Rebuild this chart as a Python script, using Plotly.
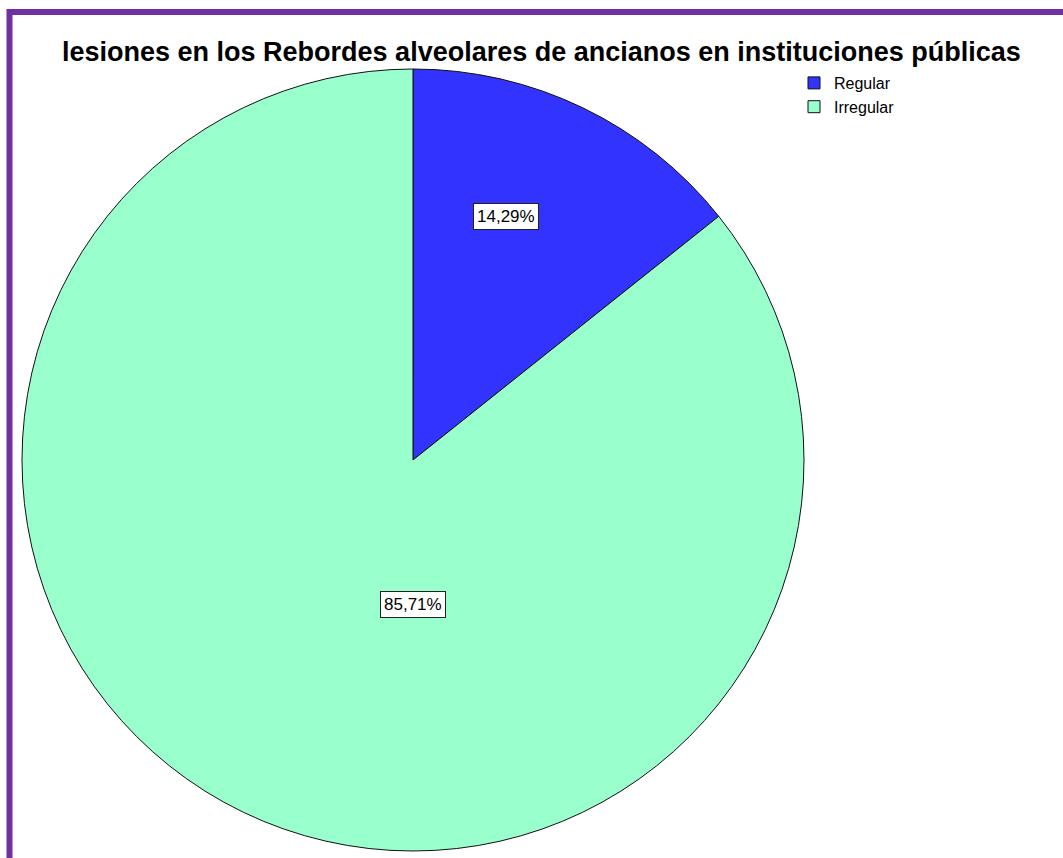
import plotly.graph_objects as go

# ---- data ----
categories = ["Regular", "Irregular"]
percentages = [14.29, 85.71]
slice_colors = ["#3333FF", "#99FFCC"]
title_text = "lesiones en los Rebordes alveolares de ancianos en instituciones públicas"

W, H = 1063, 858
# pie placement (pixels)
cx, cy, r = 413, 460, 391
# label positions as offsets from the centre, in units of radius (layout only)
label_offsets = [(93 / 391, -244 / 391), (0.0, 144 / 391)]

fig = go.Figure()
fig.add_trace(go.Pie(
    labels=categories,
    values=percentages,
    sort=False,
    direction="clockwise",
    rotation=0,
    marker=dict(colors=slice_colors, line=dict(color="#111111", width=1)),
    textinfo="none",
    hoverinfo="label+percent",
    domain=dict(x=[(cx - r) / W, (cx + r) / W], y=[(H - cy - r) / H, (H - cy + r) / H]),
    showlegend=True,
))

annotations = []
for cat, val, (ox, oy) in zip(categories, percentages, label_offsets):
    px_ = cx + ox * r
    py_ = cy + oy * r
    annotations.append(dict(
        x=px_ / W, y=1 - py_ / H, xref="paper", yref="paper",
        text=f"{val:.2f}%".replace(".", ","),
        showarrow=False,
        font=dict(family="Liberation Sans, Arial, sans-serif", size=17, color="#000000"),
        bgcolor="#FFFFFF", bordercolor="#222222", borderwidth=1, borderpad=3,
        xanchor="center", yanchor="middle",
    ))

annotations.append(dict(
    x=541 / W, y=1 - 52 / H, xref="paper", yref="paper",
    text=f"<b>{title_text}</b>", showarrow=False,
    font=dict(family="Liberation Sans, Arial, sans-serif", size=27, color="#000000"),
    xanchor="center", yanchor="middle",
))

purple = "#7030A0"
shapes = [
    dict(type="line", xref="paper", yref="paper", x0=7 / W, x1=1, y0=1 - 12 / H, y1=1 - 12 / H,
         line=dict(color=purple, width=6)),
    dict(type="line", xref="paper", yref="paper", x0=9.5 / W, x1=9.5 / W, y0=0, y1=1 - 9 / H,
         line=dict(color=purple, width=6)),
]

fig.update_layout(
    width=W, height=H,
    margin=dict(l=0, r=0, t=0, b=0),
    paper_bgcolor="#FFFFFF", plot_bgcolor="#FFFFFF",
    separators=",.",
    annotations=annotations,
    shapes=shapes,
    legend=dict(
        x=794 / W, y=1 - 66 / H, xanchor="left", yanchor="top",
        font=dict(family="Liberation Sans, Arial, sans-serif", size=16, color="#000000"),
        bgcolor="rgba(0,0,0,0)", itemwidth=30, tracegroupgap=0,
    ),
)

fig.write_html("out.html")
